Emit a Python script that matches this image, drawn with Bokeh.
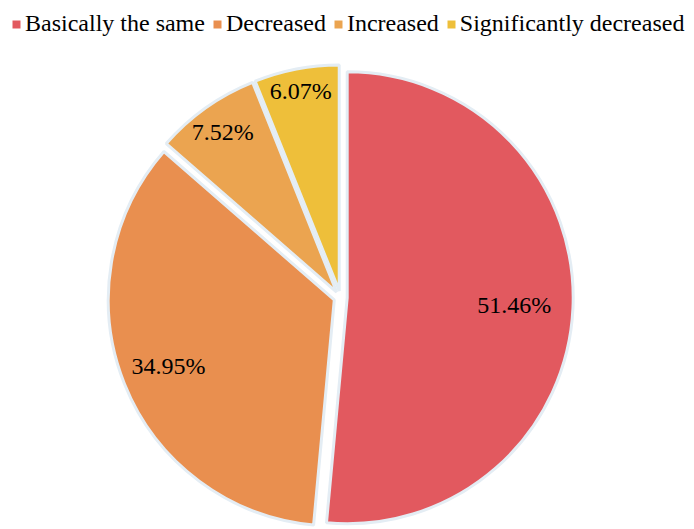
import math
from bokeh.plotting import figure
from bokeh.models import ColumnDataSource, Range1d, Legend, LegendItem
from bokeh.core.properties import value
from bokeh.embed import file_html
from bokeh.resources import INLINE

# ---- data ----
categories = ["Basically the same", "Decreased", "Increased", "Significantly decreased"]
percentages = [51.46, 34.95, 7.52, 6.07]
colors = ["#E2595F", "#E98F4F", "#EBA450", "#EEBF3A"]

# ---- layout constants ----
W, H = 694, 529
CX, CY = 340.0, H - 297.0
R = 226.0
EXPLODE = 6.7
LABEL_R = [0.74, 0.79, 0.87, 0.90]
FONT = "Liberation Serif"

total = sum(percentages)
xs, ys, starts, ends, lx, ly, labels = [], [], [], [], [], [], []
cum = 0.0
for i, v in enumerate(percentages):
    f0 = cum / total
    f1 = (cum + v) / total
    cum += v
    a0 = math.pi / 2 - 2 * math.pi * f0
    a1 = math.pi / 2 - 2 * math.pi * f1
    am = (a0 + a1) / 2
    cx = CX + EXPLODE * math.cos(am)
    cy = CY + EXPLODE * math.sin(am)
    xs.append(cx)
    ys.append(cy)
    starts.append(a0)
    ends.append(a1)
    lx.append(cx + LABEL_R[i] * R * math.cos(am))
    ly.append(cy + LABEL_R[i] * R * math.sin(am))
    labels.append(f"{v:.2f}%")

src = ColumnDataSource(dict(x=xs, y=ys, start=starts, end=ends, color=colors,
                            lx=lx, ly=ly, label=labels, cat=categories))

p = figure(width=W, height=H, x_range=Range1d(0, W), y_range=Range1d(0, H),
           output_backend="svg", toolbar_location=None,
           x_axis_location=None, y_axis_location=None, min_border=0)
p.outline_line_color = None
p.grid.visible = False
p.background_fill_color = "white"

p.wedge(x="x", y="y", radius=R, start_angle="start", end_angle="end",
        direction="clock", fill_color="color", line_color="#E4EDF4",
        line_width=3, source=src)

p.text(x="lx", y="ly", text="label", source=src, text_font=value(FONT),
       text_font_size="24px", text_align="center", text_baseline="middle",
       text_color="#000000")

# zero-radius wedges used only as legend swatches
leg_r = p.wedge(x="x", y="y", radius=0, start_angle="start", end_angle="end",
                direction="clock", fill_color="color", line_color=None, source=src)

items = [LegendItem(label=cat, renderers=[leg_r], index=i)
         for i, cat in enumerate(categories)]

legend = Legend(items=items, orientation="horizontal", location=(11, H - 37),
                glyph_width=10, glyph_height=10, label_standoff=4, spacing=7,
                padding=0, margin=0, border_line_alpha=0, background_fill_alpha=0,
                label_text_font=FONT, label_text_font_size="24px",
                label_height=20, label_text_color="#000000")
p.add_layout(legend)

open("out.html", "w").write(file_html(p, INLINE))
